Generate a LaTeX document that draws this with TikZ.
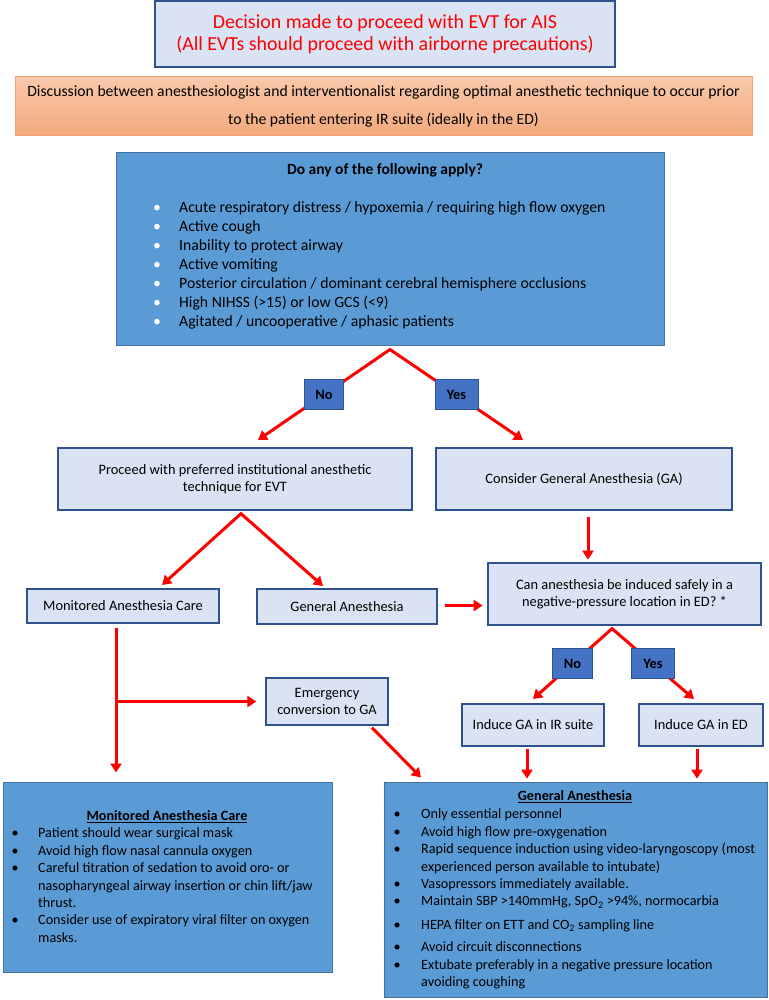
\documentclass[tikz,border=0pt]{standalone}
\usepackage{fontspec}
\setmainfont{Carlito}
\usetikzlibrary{arrows.meta,calc}
\definecolor{lbfill}{HTML}{DAE3F3}
\definecolor{lbdraw}{HTML}{2F528F}
\definecolor{bfill}{HTML}{5B9BD5}
\definecolor{bdraw}{HTML}{41719C}
\definecolor{ynfill}{HTML}{4472C4}
\definecolor{otop}{HTML}{F8C8AA}
\definecolor{obot}{HTML}{F4A97C}
\definecolor{odraw}{HTML}{F4A06E}
\definecolor{arrred}{HTML}{FF0000}
\tikzset{
  lbox/.style={draw=lbdraw, fill=lbfill, line width=1.3pt, inner sep=0pt, align=center,
    font=\fontsize{14.4}{17}\selectfont},
  bbox/.style={draw=bdraw, fill=bfill, line width=1pt, inner sep=0pt},
  ynbox/.style={draw=lbdraw, fill=ynfill, line width=1pt, inner sep=0pt, minimum height=30pt,
    font=\fontsize{14.4}{17}\selectfont\bfseries},
  >={Triangle[width=11pt,length=9pt]},
  arr/.style={draw=arrred, line width=3pt, ->},
  biarr/.style={draw=arrred, line width=3pt, <->},
  listnode/.style={anchor=north west, inner sep=0pt, align=left},
}
\newcommand{\wbul}{\textcolor{white}{\textbullet}}
\begin{document}
\begin{tikzpicture}[x=1pt,y=-1pt]
\useasboundingbox (0,0) rectangle (768,1000);

% title
\node[lbox, minimum width=460pt, minimum height=66pt, text=arrred,
  font=\fontsize{19.9}{22}\selectfont] (title) at (385,34)
  {Decision made to proceed with EVT for AIS\\(All EVTs should proceed with airborne precautions)};

% discussion
\node[draw=odraw, line width=1pt, top color=otop, bottom color=obot, minimum width=737pt,
  minimum height=59pt, inner sep=0pt, align=center, font=\fontsize{15.7}{28}\selectfont]
  (disc) at (383.5,106.5)
  {Discussion between anesthesiologist and interventionalist regarding optimal anesthetic technique to occur prior\\
   to the patient entering IR suite (ideally in the ED)};

% question box
\node[bbox, minimum width=548pt, minimum height=192pt] (q) at (390,249) {};
\node[inner sep=0pt, font=\fontsize{15.5}{18}\selectfont\bfseries] (qt) at (385,170) {Do any of the following apply?};
\node[listnode, font=\fontsize{15.7}{19}\selectfont] (ql) at (153,199) {%
\begin{tabular}{@{}p{26pt}@{}l@{}}
\wbul & Acute respiratory distress / hypoxemia / requiring high flow oxygen\\
\wbul & Active cough\\
\wbul & Inability to protect airway\\
\wbul & Active vomiting\\
\wbul & Posterior circulation / dominant cerebral hemisphere occlusions\\
\wbul & High NIHSS (>15) or low GCS (<9)\\
\wbul & Agitated / uncooperative / aphasic patients
\end{tabular}};

% middle boxes
\node[lbox, minimum width=354pt, minimum height=62pt] (proc) at (235,479)
  {Proceed with preferred institutional anesthetic\\technique for EVT};
\node[lbox, minimum width=296pt, minimum height=62pt] (cons) at (584,479)
  {Consider General Anesthesia (GA)};
\node[lbox, minimum width=192pt, minimum height=34pt] (mac) at (123,606) {Monitored Anesthesia Care};
\node[lbox, minimum width=180pt, minimum height=35pt] (ga) at (347,606.5) {General Anesthesia};
\node[lbox, minimum width=273pt, minimum height=62pt] (can) at (624.5,594)
  {Can anesthesia be induced safely in a\\negative-pressure location in ED? *};
\node[lbox, minimum width=122pt, minimum height=47pt] (emg) at (327,701.5)
  {Emergency\\conversion to GA};
\node[lbox, minimum width=142pt, minimum height=42pt] (ir) at (533,725) {Induce GA in IR suite};
\node[lbox, minimum width=124pt, minimum height=42pt] (ed) at (701,725) {Induce GA in ED};

% bottom boxes
\node[bbox, minimum width=329pt, minimum height=190pt] (mac2) at (167.5,877) {};
\node[inner sep=0pt, font=\fontsize{14.2}{17}\selectfont\bfseries] (mact) at (167,817)
  {\underline{Monitored Anesthesia Care}};
\node[listnode, font=\fontsize{14.2}{17.4}\selectfont] (macl) at (11.5,825.5) {%
\begin{tabular}{@{}p{26.5pt}@{}l@{}}
\textbullet & Patient should wear surgical mask\\
\textbullet & Avoid high flow nasal cannula oxygen\\
\textbullet & Careful titration of sedation to avoid oro- or\\
 & nasopharyngeal airway insertion or chin lift/jaw\\
 & thrust.\\
\textbullet & Consider use of expiratory viral filter on oxygen\\
 & masks.
\end{tabular}};

\node[bbox, minimum width=383pt, minimum height=215pt] (ga2) at (575.5,889.5) {};
\node[inner sep=0pt, font=\fontsize{14.2}{17}\selectfont\bfseries] (gat) at (575,797)
  {\underline{General Anesthesia}};
\node[listnode, font=\fontsize{14.2}{17.4}\selectfont] (gal) at (393.5,806.5) {%
\begin{tabular}{@{}p{27.5pt}@{}l@{}}
\textbullet & Only essential personnel\\
\textbullet & Avoid high flow pre-oxygenation\\
\textbullet & Rapid sequence induction using video-laryngoscopy (most\\
 & experienced person available to intubate)\\
\textbullet & Vasopressors immediately available.\\
\textbullet & Maintain SBP >140mmHg, SpO\textsubscript{2} >94\%, normocarbia\\[6pt]
\textbullet & HEPA filter on ETT and CO\textsubscript{2} sampling line\\[5pt]
\textbullet & Avoid circuit disconnections\\
\textbullet & Extubate preferably in a negative pressure location\\
 & avoiding coughing
\end{tabular}};

% connectors
\coordinate (tno1) at (258,440);
\coordinate (tyes1) at (523,440);
\draw[biarr] (tno1) -- node[ynbox, minimum width=39pt] (no1) {No}
  ([yshift=-4pt]q.south) -- node[ynbox, minimum width=43pt] (yes1) {Yes} (tyes1);

\coordinate (tmac) at (162,585);
\coordinate (tga) at (323,586);
\draw[biarr] (tmac) -- ([xshift=6pt,yshift=-3pt]proc.south) -- (tga);

\draw[arr] ([xshift=4pt,yshift=-6pt]cons.south) -- ++(0,43);
\draw[arr] ([xshift=7pt,yshift=1pt]ga.east) -- ++(38,0);

\coordinate (tno2) at (533,699);
\coordinate (tyes2) at (694,699);
\draw[biarr] (tno2) -- node[ynbox, minimum width=40pt] (no2) {No}
  ([xshift=-12.5pt,yshift=-3pt]can.south) -- node[ynbox, minimum width=43pt] (yes2) {Yes} (tyes2);

\coordinate (macline) at ([xshift=-7pt,yshift=-4pt]mac.south);
\draw[arr] (macline) -- ([xshift=-51.5pt,yshift=9pt]mac2.north);
\draw[arr] (macline |- emg.west) -- ([xshift=-9pt]emg.west);

\draw[arr] ([xshift=45pt,yshift=-2pt]emg.south) -- ([xshift=-154.5pt,yshift=4pt]ga2.north);
\draw[arr] ([xshift=-6pt,yshift=-2pt]ir.south) -- ++(0,30);
\draw[arr] ([xshift=-4pt,yshift=-2pt]ed.south) -- ++(0,30);
\end{tikzpicture}
\end{document}
